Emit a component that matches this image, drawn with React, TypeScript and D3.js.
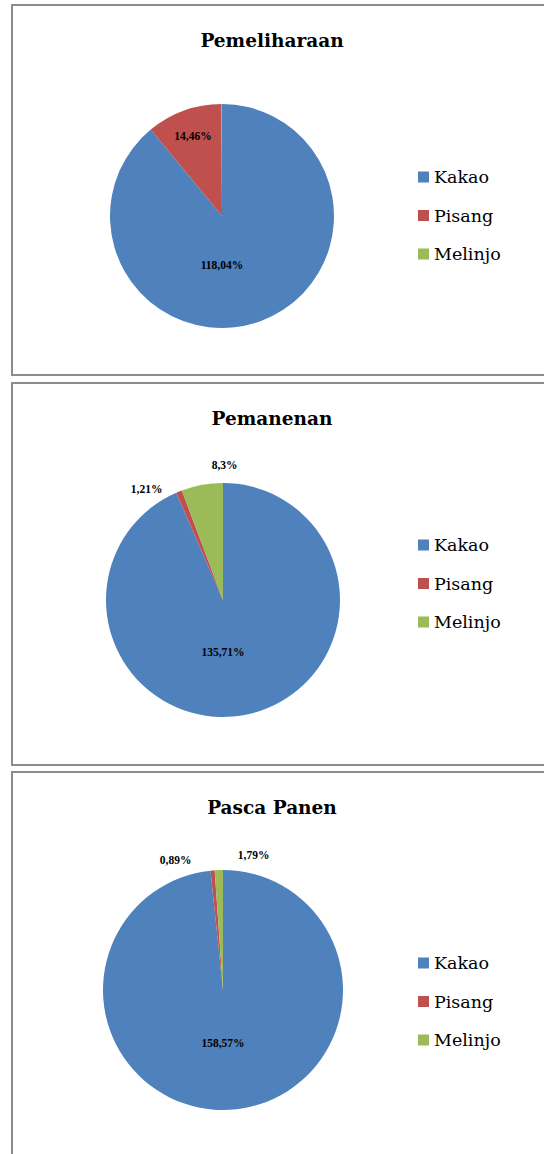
import React from "react";
import * as d3 from "d3";

const categories = ["Kakao", "Pisang", "Melinjo"];
const colors = ["#4F81BD", "#C0504D", "#9BBB59"];
const titles = ["Pemeliharaan", "Pemanenan", "Pasca Panen"];

const pemeliharaan = [118.04, 14.46, 0.1];
const pemanenan = [135.71, 1.21, 8.3];
const pascaPanen = [158.57, 0.89, 1.79];
const showLabel = [
  [true, true, false],
  [true, true, true],
  [true, true, true],
];

const series = [pemeliharaan, pemanenan, pascaPanen];

// panel layout
const panels = [
  { top: 5, h: 370, cx: 222, cy: 216, r: 112, titleY: 47, legendY: 177 },
  { top: 383, h: 382, cx: 223, cy: 600, r: 117, titleY: 425, legendY: 545 },
  { top: 772, h: 420, cx: 223, cy: 990, r: 120, titleY: 814, legendY: 963 },
];

const fmt = (v: number) => String(v).replace(".", ",") + "%";
const font = "Times New Roman, Tinos, Nimbus Roman, Liberation Serif, DejaVu Serif";
const bookFont = "DejaVu Serif, serif";

const Panel = ({ idx }: { idx: number }) => {
  const p = panels[idx];
  const values = series[idx];
  const total = d3.sum(values);
  const pie = d3.pie<number>().sort(null).value((d) => d);
  const arcs = pie(values);
  const arc = d3.arc<d3.PieArcDatum<number>>().innerRadius(0).outerRadius(p.r);

  // label positions
  const labels: { x: number; y: number; text: string }[] = [];
  const outside: { i: number; x: number }[] = [];
  arcs.forEach((a, i) => {
    if (!showLabel[idx][i]) return;
    const frac = a.value / total;
    const mid = (a.startAngle + a.endAngle) / 2;
    if (frac > 0.5) {
      // big slice: label sits below the centre
      labels.push({ x: 0, y: p.r * 0.44, text: fmt(a.value) });
    } else if (frac > 0.1) {
      const lr = p.r * 0.76;
      labels.push({ x: Math.sin(mid) * lr, y: -Math.cos(mid) * lr, text: fmt(a.value) });
    } else {
      outside.push({ i, x: Math.sin(mid) * (p.r + 18) });
    }
  });
  if (outside.length) {
    const R = p.r + 18;
    const mean = d3.mean(outside, (o) => o.x) as number;
    const gap = 78;
    outside.forEach((o, k) => {
      const x = outside.length > 1 ? mean + (k - (outside.length - 1) / 2) * gap : o.x;
      labels.push({ x, y: -Math.sqrt(R * R - x * x), text: fmt(values[o.i]) });
    });
  }

  const legendStep = 38.5;

  return (
    <g>
      <rect x={12} y={p.top} width={620} height={p.h} fill="#fff" stroke="#8c8c8c" strokeWidth={2} />
      <text x={272} y={p.titleY} textAnchor="middle" style={{ fontFamily: bookFont }} fontWeight="bold" fontSize={18.5} fill="#000">
        {titles[idx]}
      </text>
      <g transform={`translate(${p.cx},${p.cy})`}>
        {arcs.map((a, i) => (
          <path key={i} d={arc(a) || ""} fill={colors[i]} />
        ))}
        {labels.map((l, i) => (
          <text key={i} x={l.x} y={l.y} dy="0.35em" textAnchor="middle" style={{ fontFamily: font }} fontWeight="bold" fontSize={11.5} fill="#000">
            {l.text}
          </text>
        ))}
      </g>
      <g transform={`translate(418,${p.legendY})`}>
        {categories.map((c, i) => (
          <g key={c} transform={`translate(0,${i * legendStep})`}>
            <rect x={0} y={-5.5} width={11} height={11} fill={colors[i]} />
            <text x={16} y={0} dy="0.35em" style={{ fontFamily: bookFont }} fontSize={17.5} fill="#000">
              {c}
            </text>
          </g>
        ))}
      </g>
    </g>
  );
};

export default function App() {
  return (
    <svg width={544} height={1154} style={{ position: "absolute", left: 0, top: 0, display: "block" }}>
      <rect width={544} height={1154} fill="#fff" />
      {panels.map((_, i) => (
        <Panel key={i} idx={i} />
      ))}
    </svg>
  );
}
